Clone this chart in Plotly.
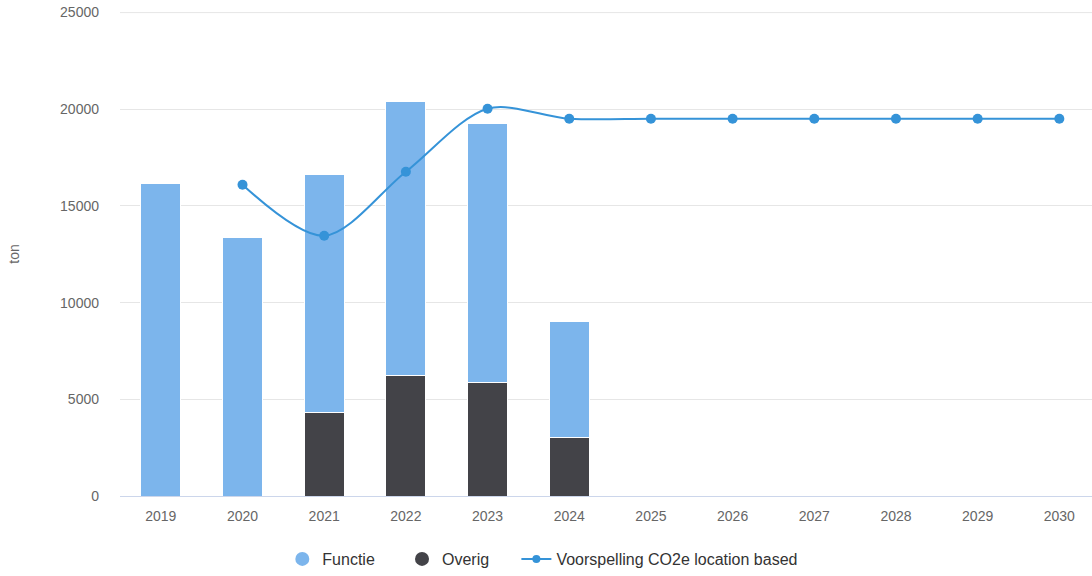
import plotly.graph_objects as go

years = ["2019", "2020", "2021", "2022", "2023", "2024", "2025", "2026", "2027", "2028", "2029", "2030"]
functie = [16150, 13350, 12320, 14180, 13410, 5950, None, None, None, None, None, None]
overig = [None, None, 4300, 6210, 5850, 3050, None, None, None, None, None, None]
forecast_years = ["2020", "2021", "2022", "2023", "2024", "2025", "2026", "2027", "2028", "2029", "2030"]
forecast = [16100, 13460, 16770, 20030, 19510, 19510, 19510, 19510, 19510, 19510, 19510]
y_ticks = [0, 5000, 10000, 15000, 20000, 25000]

c_func = "#7cb5ec"
c_over = "#434348"
c_line = "#3593d8"
font = "Liberation Sans, Arial, sans-serif"
gap = "\u00a0" * 5

fig = go.Figure()
fig.add_trace(go.Bar(x=years, y=overig, name="Overig", marker=dict(color=c_over, line=dict(color="white", width=1)),
                     width=0.49, showlegend=False, legendgroup="o"))
fig.add_trace(go.Bar(x=years, y=functie, name="Functie", marker=dict(color=c_func, line=dict(color="white", width=1)),
                     width=0.49, showlegend=False, legendgroup="f"))
fig.add_trace(go.Scatter(x=forecast_years, y=forecast, mode="lines+markers", name="Voorspelling CO2e location based",
                         line=dict(color=c_line, width=2, shape="spline", smoothing=0.9),
                         marker=dict(size=10, color=c_line), showlegend=False, legendgroup="v"))
# legend proxies
fig.add_trace(go.Scatter(x=[None], y=[None], mode="markers", name="Functie" + gap, legendgroup="f",
                         marker=dict(size=14, color=c_func, symbol="circle")))
fig.add_trace(go.Scatter(x=[None], y=[None], mode="markers", name="Overig" + gap, legendgroup="o",
                         marker=dict(size=14, color=c_over, symbol="circle")))
fig.add_trace(go.Scatter(x=[None], y=[None], mode="lines+markers", name="Voorspelling CO2e location based", legendgroup="v",
                         line=dict(color=c_line, width=2), marker=dict(size=8, color=c_line)))

fig.add_shape(type="line", xref="paper", yref="y", x0=0, x1=1, y0=y_ticks[-1], y1=y_ticks[-1],
              line=dict(color="#e6e6e6", width=1), layer="below")

fig.update_layout(
    width=1092, height=576,
    barmode="stack",
    plot_bgcolor="white", paper_bgcolor="white",
    margin=dict(l=120, r=0, t=12, b=80, autoexpand=False),
    font=dict(family=font, size=13, color="#666666"),
    xaxis=dict(type="category", categoryorder="array", categoryarray=years, range=[-0.5, 11.4],
               showline=True, linecolor="#ccd6eb", linewidth=1, showgrid=False, ticks="",
               tickfont=dict(size=14, color="#666666"), ticklabelstandoff=7),
    yaxis=dict(range=[0, 25030], tickvals=y_ticks, tickformat="d",
               showgrid=True, gridcolor="#e6e6e6", gridwidth=1, ticklabeloverflow="allow",
               zeroline=False, tickfont=dict(size=14, color="#666666"), ticklabelstandoff=20,
               title=dict(text="ton", font=dict(size=14, color="#666666"), standoff=37)),
    legend=dict(orientation="h", x=0.435, xanchor="center", y=-0.095, yanchor="top",
                font=dict(size=16, color="#333333"), itemwidth=30, traceorder="normal"),
)
fig.write_html("out.html", config={"displayModeBar": False},
               post_script="document.body.style.margin='0';")
